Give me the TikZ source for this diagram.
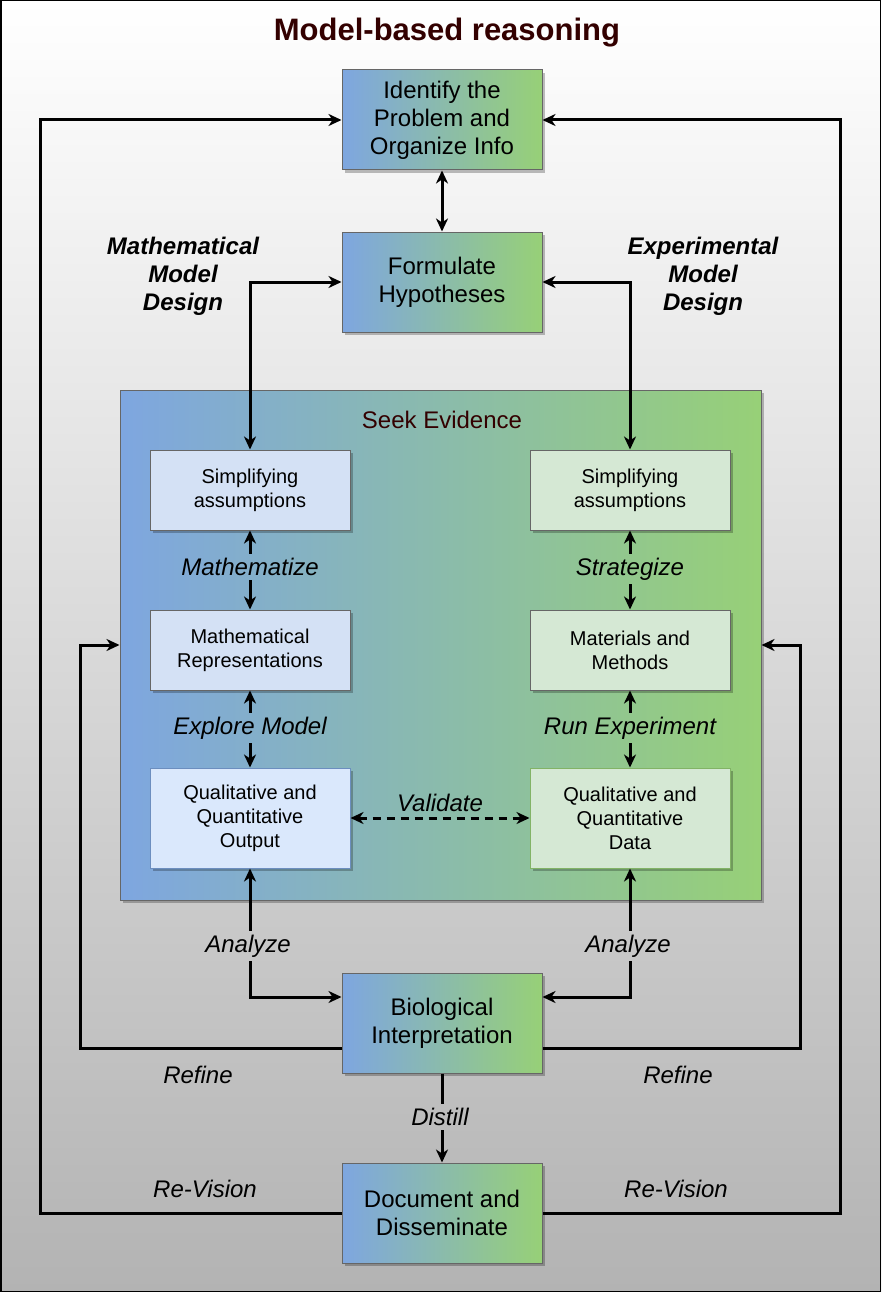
\documentclass[tikz,border=0pt]{standalone}
\usepackage{fontspec}
\setmainfont{Liberation Sans}
\usetikzlibrary{arrows.meta, positioning, shadows}
\definecolor{gradblue}{HTML}{7EA6E0}
\definecolor{gradgreen}{HTML}{97D077}
\definecolor{boxedge}{HTML}{666666}
\definecolor{mathfill}{HTML}{D4E1F5}
\definecolor{outfill}{HTML}{DAE8FC}
\definecolor{outedge}{HTML}{6C8EBF}
\definecolor{expfill}{HTML}{D5E8D4}
\definecolor{dataedge}{HTML}{82B366}
\definecolor{titlered}{HTML}{330000}
\definecolor{bggray}{HTML}{B3B3B3}

\begin{document}
\begin{tikzpicture}[x=1pt, y=-1pt,
    >={Stealth[length=13pt,width=12pt,inset=4pt]},
    every node/.style={font=\fontsize{24}{28}\selectfont, align=center},
    conn/.style={line width=3pt},
    boxshadow/.style={drop shadow={shadow xshift=3pt, shadow yshift=-3pt, fill=black, opacity=0.25}},
    bigbox/.style={draw=boxedge, line width=1pt, left color=gradblue, right color=gradgreen,
        minimum width=200pt, minimum height=100pt, inner sep=0pt, boxshadow},
    seekbox/.style={draw=boxedge, line width=1pt, left color=gradblue, right color=gradgreen,
        minimum width=641pt, minimum height=510pt, inner sep=0pt, boxshadow},
    mathbox/.style={draw=boxedge, line width=1pt, fill=mathfill, minimum width=200pt,
        minimum height=80pt, inner sep=0pt, font=\fontsize{20}{24}\selectfont, boxshadow},
    expbox/.style={mathbox, fill=expfill},
    lbl/.style={font=\itshape\fontsize{24}{28}\selectfont, inner sep=4pt},
    sidelbl/.style={font=\bfseries\itshape\fontsize{24}{28}\selectfont}]
    \shade[top color=white, bottom color=bggray] (0,0) rectangle (881,1292);
    \draw[line width=1.5pt] (0.75,0.75) rectangle (880.25,1291.25);
    \useasboundingbox (0,0) rectangle (881,1292);

    \node[font=\bfseries\fontsize{31}{36}\selectfont, text=titlered] (title) at (447,33) {Model-based reasoning};
    \node[sidelbl] (mathdes) at (183,276) {Mathematical\\Model\\Design};
    \node[sidelbl] (expdes) at (703,276) {Experimental\\Model\\Design};

    \node[bigbox] (ident) at (442,120) {Identify the\\Problem and\\Organize Info};
    \node[bigbox] (form) at (442,282) {Formulate\\Hypotheses};
    \node[seekbox] (seek) at (440.5,645) {};
    \node[text=titlered] (seekt) at (442,420) {Seek Evidence};

    \node[mathbox] (msimp) at (250,490) {Simplifying\\assumptions};
    \node[mathbox] (mrep) at (250,650) {Mathematical\\Representations};
    \node[mathbox, fill=outfill, draw=outedge, minimum height=100pt] (mout) at (250,818) {Qualitative and\\Quantitative\\Output};
    \node[expbox] (esimp) at (630,490) {Simplifying\\assumptions};
    \node[expbox] (emeth) at (630,650) {Materials and\\Methods};
    \node[expbox, draw=dataedge, minimum height=100pt] (edata) at (630,818) {Qualitative and\\Quantitative\\Data};

    \node[bigbox] (bio) at (442,1023) {Biological\\Interpretation};
    \node[bigbox] (doc) at (442,1213) {Document and\\Disseminate};

    \node[lbl] (mathz) at (250,567) {Mathematize};
    \node[lbl] (explore) at (250,728) {Explore Model};
    \node[lbl] (strat) at (630,569) {Strategize};
    \node[lbl] (runexp) at (630,728) {Run Experiment};
    \node[lbl] (anl) at (248,946) {Analyze};
    \node[lbl] (anr) at (628,946) {Analyze};
    \node[lbl] (distill) at (440,1117) {Distill};
    \node[lbl] (refl) at (198,1075) {Refine};
    \node[lbl] (refr) at (678,1075) {Refine};
    \node[lbl] (revl) at (205,1189) {Re-Vision};
    \node[lbl] (revr) at (676,1189) {Re-Vision};

    \coordinate (rfl) at (80,645);
    \coordinate (rfr) at (800,645);
    \coordinate (rvl) at (40,120);
    \coordinate (rvr) at (840,120);

    \draw[conn,<->] (ident) -- (form);
    \draw[conn,<->] (form.west) -| (msimp.north);
    \draw[conn,<->] (form.east) -| (esimp.north);
    \draw[conn,->] (mathz) -- (msimp);
    \draw[conn,->] (mathz) -- (mrep);
    \draw[conn,->] (explore) -- (mrep);
    \draw[conn,->] (explore) -- (mout);
    \draw[conn,->] (strat) -- (esimp);
    \draw[conn,->] (strat) -- (emeth);
    \draw[conn,->] (runexp) -- (emeth);
    \draw[conn,->] (runexp) -- (edata);
    \draw[conn,<->,dash pattern=on 8pt off 6pt] (mout) -- node[lbl, above, yshift=1pt] (valid) {Validate} (edata);
    \draw[conn,->] (anl.north -| mout.south) -- (mout);
    \draw[conn,->] (anl.south -| mout.south) |- ([yshift=26pt]bio.west);
    \draw[conn,->] (anr.north -| edata.south) -- (edata);
    \draw[conn,->] (anr.south -| edata.south) |- ([yshift=26pt]bio.east);
    \draw[conn,->] ([yshift=-25pt]bio.west) -| (rfl) -- (seek.west);
    \draw[conn,->] ([yshift=-25pt]bio.east) -| (rfr) -- (seek.east);
    \draw[conn] (bio) -- (distill.north -| bio.south);
    \draw[conn,->] (distill.south -| bio.south) -- (doc);
    \draw[conn,->] (doc.west) -| (rvl) -- (ident.west);
    \draw[conn,->] (doc.east) -| (rvr) -- (ident.east);
\end{tikzpicture}
\end{document}
